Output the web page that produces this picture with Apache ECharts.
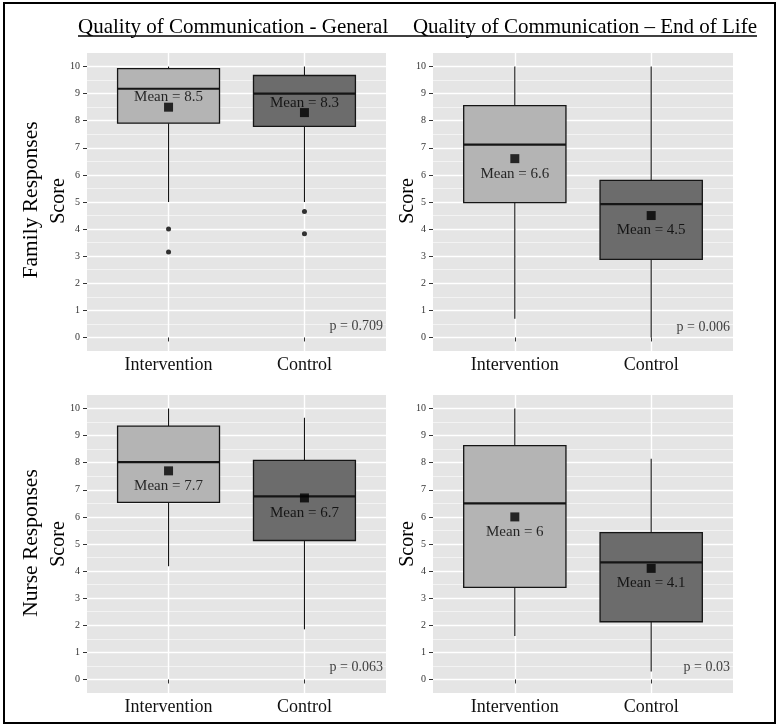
<!DOCTYPE html>
<html><head><meta charset="utf-8">
<script src="https://cdn.jsdelivr.net/npm/echarts@6/dist/echarts.min.js"></script>
<style>html,body{margin:0;padding:0;background:#fff}#c{width:779px;height:728px}</style>
</head><body><div id="c"></div>
<script>
// ---------- data ----------
const categories = ['Intervention', 'Control'];
const columnTitles = ['Quality of Communication - General', 'Quality of Communication \u2013 End of Life'];
const rowTitles = ['Family Responses', 'Nurse Responses'];
const yAxisTitle = 'Score';
const yTicks = [0, 1, 2, 3, 4, 5, 6, 7, 8, 9, 10];
const yMinorTicks = [0.5, 1.5, 2.5, 3.5, 4.5, 5.5, 6.5, 7.5, 8.5, 9.5];

// box stats per category: [lower whisker, Q1, median, Q3, upper whisker]
const familyGeneralBoxes = [[5, 7.91, 9.18, 9.92, 10], [5, 7.79, 9.0, 9.67, 10]];
const familyGeneralMeans = [8.5, 8.3];
const familyGeneralOutliers = [[4.0, 3.15], [4.65, 3.83]];
const familyGeneralP = '0.709';

const familyEolBoxes = [[0.69, 4.98, 7.12, 8.56, 10], [0, 2.88, 4.92, 5.8, 10]];
const familyEolMeans = [6.6, 4.5];
const familyEolOutliers = [[], []];
const familyEolP = '0.006';

const nurseGeneralBoxes = [[4.18, 6.54, 8.02, 9.35, 10], [1.85, 5.13, 6.76, 8.09, 9.66]];
const nurseGeneralMeans = [7.7, 6.7];
const nurseGeneralOutliers = [[], []];
const nurseGeneralP = '0.063';

const nurseEolBoxes = [[1.6, 3.4, 6.5, 8.63, 10], [0.29, 2.13, 4.32, 5.42, 8.15]];
const nurseEolMeans = [6, 4.1];
const nurseEolOutliers = [[], []];
const nurseEolP = '0.03';

// ---------- layout / style ----------
const FONT = 'Liberation Serif';
const boxFills = ['#b4b4b4', '#6c6c6c'];
const panels = [
  {boxes: familyGeneralBoxes, means: familyGeneralMeans, outliers: familyGeneralOutliers, p: familyGeneralP,
   grid: {left: 87, top: 53, width: 299, height: 298}, labelOffset: -10, pY: 0.4},
  {boxes: familyEolBoxes, means: familyEolMeans, outliers: familyEolOutliers, p: familyEolP,
   grid: {left: 433, top: 53, width: 300, height: 298}, labelOffset: 15, pY: 0.38},
  {boxes: nurseGeneralBoxes, means: nurseGeneralMeans, outliers: nurseGeneralOutliers, p: nurseGeneralP,
   grid: {left: 87, top: 395, width: 299, height: 298}, labelOffset: 15, pY: 0.45},
  {boxes: nurseEolBoxes, means: nurseEolMeans, outliers: nurseEolOutliers, p: nurseEolP,
   grid: {left: 433, top: 395, width: 300, height: 298}, labelOffset: 15, pY: 0.45}
];

const grids = [], xAxes = [], yAxes = [], series = [];
panels.forEach((pn, gi) => {
  grids.push(Object.assign({show: true, backgroundColor: '#e5e5e5', borderWidth: 0}, pn.grid));
  xAxes.push({
    type: 'value', gridIndex: gi, min: 0.4, max: 2.6,
    axisLine: {show: false},
    axisTick: {show: true, length: 4, lineStyle: {color: '#333', width: 1}, customValues: [1, 2]},
    axisLabel: {show: true, customValues: [1, 2], margin: 5, fontFamily: FONT, fontSize: 18, color: '#111',
      formatter: v => categories[Math.round(v) - 1] || ''},
    splitLine: {show: true, lineStyle: {color: '#ffffff', width: 1.4}}
  });
  yAxes.push({
    type: 'value', gridIndex: gi, min: -0.5, max: 10.5,
    axisLine: {show: false},
    axisTick: {show: true, length: 4, lineStyle: {color: '#333', width: 1}, customValues: yTicks},
    axisLabel: {show: true, customValues: yTicks, margin: 7, fontFamily: FONT, fontSize: 10, color: '#333'},
    splitLine: {show: true, lineStyle: {color: '#ffffff', width: 1.4}}
  });
  const minorIdx = yAxes.length;
  yAxes.push({
    type: 'value', gridIndex: gi, min: -0.5, max: 10.5,
    axisLine: {show: false},
    axisTick: {show: false, customValues: yMinorTicks},
    axisLabel: {show: false},
    splitLine: {show: true, lineStyle: {color: '#f6f6f6', width: 0.8}}
  });
  const yIdx = minorIdx - 1;

  // boxes + whiskers
  series.push({
    type: 'custom', xAxisIndex: gi, yAxisIndex: yIdx, z: 2,
    encode: {x: 0, y: [1, 2, 3, 4, 5]},
    data: pn.boxes.map((b, i) => [i + 1].concat(b)),
    renderItem: function (params, api) {
      const x = api.value(0);
      const lo = api.coord([x, api.value(1)]);
      const q1 = api.coord([x, api.value(2)]);
      const md = api.coord([x, api.value(3)]);
      const q3 = api.coord([x, api.value(4)]);
      const hi = api.coord([x, api.value(5)]);
      const w = api.size([0.75, 0])[0];
      const cx = lo[0];
      const stroke = '#151515';
      return {type: 'group', children: [
        {type: 'line', shape: {x1: cx, y1: hi[1], x2: cx, y2: q3[1]}, style: {stroke, lineWidth: 1.1}},
        {type: 'line', shape: {x1: cx, y1: q1[1], x2: cx, y2: lo[1]}, style: {stroke, lineWidth: 1.1}},
        {type: 'rect', shape: {x: cx - w / 2, y: q3[1], width: w, height: q1[1] - q3[1]},
         style: {fill: boxFills[params.dataIndex], stroke, lineWidth: 1.3}},
        {type: 'line', shape: {x1: cx - w / 2, y1: md[1], x2: cx + w / 2, y2: md[1]}, style: {stroke, lineWidth: 2.2}}
      ]};
    }
  });
  // outliers
  const out = [];
  pn.outliers.forEach((arr, i) => arr.forEach(v => out.push([i + 1, v])));
  series.push({
    type: 'scatter', xAxisIndex: gi, yAxisIndex: yIdx, z: 3,
    symbol: 'circle', symbolSize: 5, itemStyle: {color: '#000'}, silent: true,
    data: out
  });
  // means with labels
  series.push({
    type: 'scatter', xAxisIndex: gi, yAxisIndex: yIdx, z: 4,
    symbol: 'rect', symbolSize: 9, itemStyle: {color: '#000'}, silent: true,
    data: pn.means.map((m, i) => [i + 1, m]),
    label: {show: true, position: 'inside', offset: [0, pn.labelOffset],
      formatter: p => 'Mean = ' + p.value[1], fontFamily: FONT, fontSize: 15, color: '#000'}
  });
  // p-value annotation
  series.push({
    type: 'scatter', xAxisIndex: gi, yAxisIndex: yIdx, z: 4,
    symbolSize: 0, silent: true,
    data: [[2.6, pn.pY]],
    label: {show: true, position: 'left', distance: 3, formatter: () => 'p = ' + pn.p,
      fontFamily: FONT, fontSize: 14, color: '#111'}
  });
});

const txt = (x, y, text, size, align, rot) => ({
  type: 'text', x, y, rotation: rot || 0,
  style: {text, fontFamily: FONT, fontSize: size, fill: '#000', align: align || 'center', verticalAlign: 'middle'}
});

const graphic = [
  {type: 'rect', shape: {x: 4, y: 3, width: 771, height: 720}, style: {fill: 'none', stroke: '#000', lineWidth: 2}},
  {type: 'line', shape: {x1: 78, y1: 36, x2: 757, y2: 36}, style: {stroke: '#000', lineWidth: 1.3}},
  txt(78, 27, columnTitles[0], 21, 'left'),
  txt(757, 27, columnTitles[1], 21, 'right'),
  txt(31, 200, rowTitles[0], 21.5, 'center', Math.PI / 2),
  txt(59, 201, yAxisTitle, 20, 'center', Math.PI / 2),
  txt(408, 201, yAxisTitle, 20, 'center', Math.PI / 2),
  txt(31, 543, rowTitles[1], 21.5, 'center', Math.PI / 2),
  txt(59, 544, yAxisTitle, 20, 'center', Math.PI / 2),
  txt(408, 544, yAxisTitle, 20, 'center', Math.PI / 2)
];

const chart = echarts.init(document.getElementById('c'), null, {renderer: 'canvas'});
chart.setOption({
  animation: false,
  backgroundColor: '#fff',
  grid: grids, xAxis: xAxes, yAxis: yAxes, series, graphic
});
</script></body></html>
